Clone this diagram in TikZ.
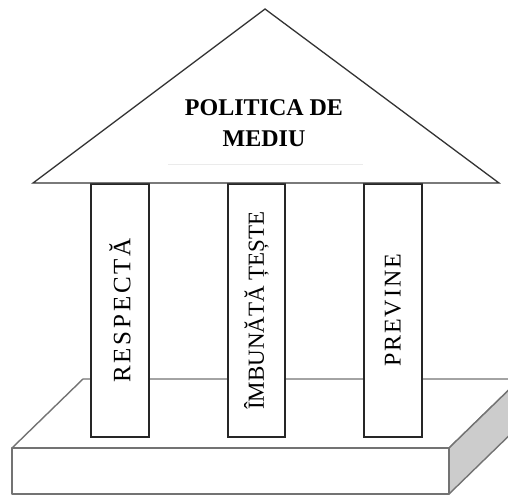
\documentclass[tikz,border=0pt]{standalone}
\usepackage{fontspec}
\setmainfont{Liberation Serif}
\begin{document}
\begin{tikzpicture}[x=1pt, y=-1pt,
  slab/.style={draw=black!55, line width=1.4pt, line join=round},
  roof/.style={draw=black!80, line width=1.3pt, fill=white},
  pillar/.style={draw=black!85, line width=1.1pt, fill=white, rotate=90,
    minimum width=253pt, minimum height=58pt, inner sep=0pt,
    font=\fontsize{25}{28}\selectfont},
  title/.style={align=center, font=\fontsize{24}{31}\selectfont\bfseries}]
  \useasboundingbox (0,0) rectangle (508,496);
  % base slab
  \coordinate (sfl) at (12,448);
  \coordinate (sfr) at (449,448);
  \coordinate (sbl) at (83,379);
  \coordinate (sbr) at (520,379);
  \coordinate (sdl) at (12,494);
  \coordinate (sdr) at (449,494);
  \coordinate (sdb) at (520,425);
  \draw[slab, fill=white] (sfl) -- (sbl) -- (sbr) -- (sfr) -- cycle;
  \draw[slab, fill=black!20] (sfr) -- (sbr) -- (sdb) -- (sdr) -- cycle;
  \draw[slab, fill=white] (sfl) rectangle (sdr);
  % pillars
  \node[pillar] (respecta) at (120,310.5) {\addfontfeature{LetterSpace=11}RESPECTĂ};
  \node[pillar, minimum height=57pt, font=\fontsize{23}{28}\selectfont] (imbunatateste) at (256.5,310.5) {ÎMBUNĂTĂ ȚEȘTE};
  \node[pillar, font=\fontsize{24}{28}\selectfont] (previne) at (393,310.5) {\addfontfeature{LetterSpace=8}PREVINE};
  % roof
  \coordinate (apex) at (265,9);
  \coordinate (rl) at (33,183);
  \coordinate (rr) at (499,183);
  \draw[roof] (rl) -- (apex) -- (rr) -- cycle;
  \node[title] (politica) at (264,123) {POLITICA DE\\MEDIU};
  \draw[black!8, line width=1pt] (168,164) -- (363,164);
\end{tikzpicture}
\end{document}
